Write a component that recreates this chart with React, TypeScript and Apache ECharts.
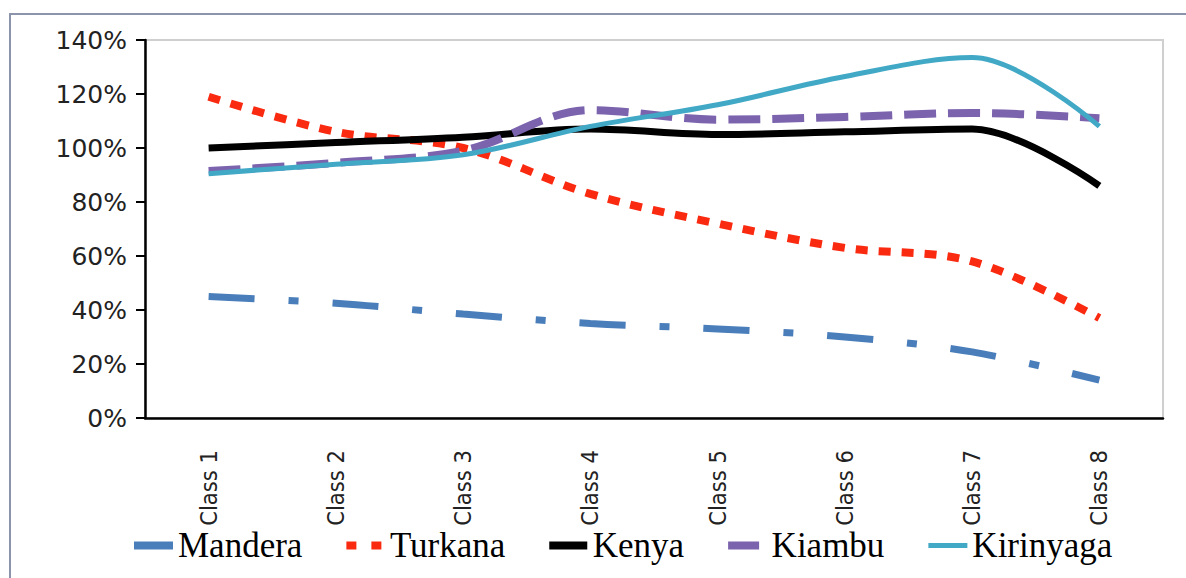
import React, { useEffect, useRef } from "react";
import * as echarts from "echarts";

// Enrolment ratio by class, per region (%)
const categories = ["Class 1", "Class 2", "Class 3", "Class 4", "Class 5", "Class 6", "Class 7", "Class 8"];
const mandera = [45, 42.5, 38.5, 35, 33, 30, 24.5, 14];
const turkana = [119, 106, 100, 83, 72, 63, 58, 37];
const kenya = [100, 102, 104, 107, 105, 106, 107, 86];
const kiambu = [91.5, 94.5, 99, 114, 110.5, 111.5, 113, 111];
const kirinyaga = [90.5, 94, 97.5, 108, 116, 126.5, 133.5, 108];
const yTicks = { min: 0, max: 140, interval: 20 };

// Legend swatches: short strokes echoing each line's dash style.
// A tiny speck at x=38 keeps every swatch box the same width.
const SPECK = " M38,0h0.01v0.01h-0.01z";
const legendIcons: Record<string, string> = {
  Mandera: "path://M0,0h39v8h-39z",
  Turkana: "path://M0,0h10v8h-10z M25,0h10v8h-10z" + SPECK,
  Kenya: "path://M0,0h38v8h-38z",
  Kiambu: "path://M0,0h31v8h-31z" + SPECK,
  Kirinyaga: "path://M0,0h38v5h-38z",
};

export default function App() {
  const ref = useRef<HTMLDivElement>(null);

  useEffect(() => {
    if (!ref.current) return;
    const chart = echarts.init(ref.current, undefined, { renderer: "svg" });

    const line = (name: string, data: number[], color: string, width: number, type: any) => ({
      name,
      type: "line",
      data,
      smooth: 0.35,
      symbol: "none",
      showSymbol: false,
      lineStyle: { color, width, type, cap: "butt" },
      itemStyle: { color },
    });

    const names = ["Mandera", "Turkana", "Kenya", "Kiambu", "Kirinyaga"];

    chart.setOption({
      animation: false,
      backgroundColor: "#ffffff",
      grid: {
        left: 145,
        right: 23,
        top: 40,
        bottom: 160,
        show: true,
        borderColor: "#cfcfcf",
        borderWidth: 2,
        backgroundColor: "#ffffff",
      },
      graphic: [
        {
          type: "polyline",
          shape: { points: [[10, 578], [10, 14], [1186, 14]] },
          style: { stroke: "#8b94aa", lineWidth: 2, fill: "none" },
          silent: true,
        },
      ],
      legend: {
        left: 129,
        top: 523,
        itemWidth: 39,
        itemHeight: 8,
        itemGap: 44,
        itemStyle: { borderWidth: 0 },
        textStyle: { fontFamily: "'Liberation Serif', 'Times New Roman', serif", fontSize: 35, color: "#000" },
        data: names.map((n) => ({ name: n, icon: legendIcons[n] })),
      },
      xAxis: {
        type: "category",
        data: categories,
        boundaryGap: true,
        axisLine: { lineStyle: { color: "#000", width: 2.5 } },
        axisTick: { length: 9, lineStyle: { color: "#000", width: 2 } },
        axisLabel: {
          rotate: 90,
          margin: 32,
          fontFamily: "'Liberation Sans Narrow', 'DejaVu Sans Condensed', 'Liberation Sans', sans-serif",
          fontSize: 23.5,
          color: "#222",
        },
        splitLine: { show: false },
      },
      yAxis: {
        type: "value",
        min: yTicks.min,
        max: yTicks.max,
        interval: yTicks.interval,
        axisLine: { show: true, lineStyle: { color: "#000", width: 2.5 } },
        axisTick: { show: true, length: 9, lineStyle: { color: "#000", width: 2 } },
        axisLabel: {
          formatter: "{value}%",
          margin: 18,
          fontFamily: "'DejaVu Sans', Verdana, sans-serif",
          fontSize: 25,
          color: "#222",
        },
        splitLine: { show: false },
      },
      series: [
        line("Mandera", mandera, "#4a7ebb", 7, [46, 34, 10, 34]),
        line("Turkana", turkana, "#fa2a10", 8, [12, 11]),
        line("Kenya", kenya, "#000000", 7, "solid"),
        line("Kiambu", kiambu, "#7b63ae", 8, [32, 12]),
        line("Kirinyaga", kirinyaga, "#41a9c6", 5, "solid"),
      ],
    });

    return () => chart.dispose();
  }, []);

  return (
    <div
      ref={ref}
      style={{ position: "absolute", left: 0, top: 0, width: 1186, height: 578, background: "#fff" }}
    />
  );
}
